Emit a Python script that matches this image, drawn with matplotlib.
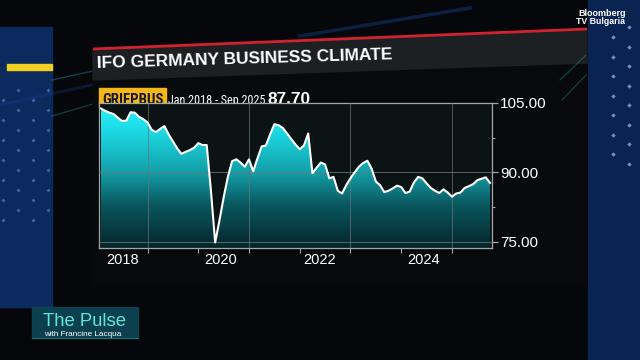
import numpy as np
import matplotlib
matplotlib.use("Agg")
import matplotlib.pyplot as plt
from matplotlib.colors import LinearSegmentedColormap
from matplotlib.patches import Rectangle, Polygon
from matplotlib import font_manager as fm

# ---------------- data ----------------
title = "IFO GERMANY BUSINESS CLIMATE"
ticker = "GRIFPBUS"
period = "Jan 2018 - Sep 2025"
last_value = "87.70"
start_year = 2018
ifo_values = [
    103.8, 103.3, 102.9, 102.6, 101.8, 101.1, 101.2, 103.0, 102.9, 102.0, 101.5, 100.8,   # 2018
    99.2, 98.7, 99.4, 100.0, 98.2, 96.7, 95.2, 94.0, 94.4, 94.8, 95.3, 96.3,              # 2019
    95.9, 95.9, 86.0, 74.8, 79.5, 84.5, 89.0, 92.4, 92.8, 92.1, 91.2, 92.8,               # 2020
    90.2, 93.0, 95.6, 95.8, 98.2, 100.4, 100.2, 99.6, 98.4, 97.2, 96.0, 95.0,             # 2021
    95.8, 98.4, 89.8, 91.0, 92.1, 91.7, 88.7, 89.0, 86.0, 85.4, 87.2, 88.7,               # 2022
    90.0, 91.2, 92.0, 92.5, 90.8, 88.0, 87.2, 85.7, 86.0, 86.5, 87.1, 86.8,               # 2023
    85.5, 85.8, 87.8, 89.0, 88.7, 87.6, 86.6, 86.0, 85.5, 86.3, 85.6, 84.7,               # 2024
    85.4, 85.6, 86.6, 87.0, 87.4, 88.3, 88.6, 88.9, 87.7,                                 # 2025
]
y_ticks = [75, 90, 105]
y_minor = [82.5, 97.5]
y_labels = ["75.00", "90.00", "105.00"]
year_labels = ["2018", "2020", "2022", "2024"]
year_label_pos = [2018.5, 2020.45, 2022.4, 2024.45]
year_ticks = [2019, 2020, 2021, 2022, 2023, 2024, 2025]
grid_years = [2019, 2021, 2023, 2025]

# month-end positions in decimal years
x = start_year + (np.arange(len(ifo_values)) + 1) / 12.0
y = np.array(ifo_values)


def pick_font(cands, default):
    for f in cands:
        try:
            fm.findfont(fm.FontProperties(family=f), fallback_to_default=False)
            return [f, "DejaVu Sans"]
        except Exception:
            continue
    return [default, "DejaVu Sans"]


SANS = pick_font(["Liberation Sans", "Arial"], "DejaVu Sans")
NARROW = pick_font(["Liberation Sans Narrow", "DejaVu Sans Condensed",
                    "Roboto Condensed", "Open Sans Condensed"], SANS[0])

W, H = 640, 360
fig = plt.figure(figsize=(6.4, 3.6), dpi=100, facecolor="#05070a")

# ---------------- background (pixel coords) ----------------
bg = fig.add_axes([0, 0, 1, 1])
bg.set_xlim(0, W)
bg.set_ylim(H, 0)
bg.axis("off")
bg.add_patch(Rectangle((0, 0), W, H, color="#05070a", zorder=0))
# side blue panels
bg.add_patch(Rectangle((0, 27), 52, 280, color="#0b2a5e", zorder=1))
bg.add_patch(Rectangle((588, 0), 52, 360, color="#0a2452", zorder=1))
bg.add_patch(Rectangle((7, 64), 45, 6, color="#f2d021", zorder=2))
# diamond dots
for cx, y0 in [(3, 100), (18, 90), (33, 100), (48, 90)]:
    ys = np.arange(y0, 230, 20)
    bg.scatter([cx] * len(ys), ys, marker="D", s=4, color="#5d8fd6", alpha=0.6, zorder=2, linewidths=0)
for cx, y0 in [(613, 37), (629, 27)]:
    ys = np.arange(y0, 165, 19.5)
    bg.scatter([cx] * len(ys), ys, marker="D", s=5, color="#7fa8e6", alpha=0.85, zorder=2, linewidths=0)
# faint streaks
bg.plot([52, 93], [80, 71], color="#2bb3c0", lw=1.0, alpha=0.35, zorder=1)
bg.plot([52, 93], [116, 104], color="#2bb3c0", lw=1.0, alpha=0.3, zorder=1)
bg.plot([0, 160], [105, 70], color="#1a3f9a", lw=2.0, alpha=0.3, zorder=1)
bg.plot([300, 470], [36, 8], color="#1a4fb0", lw=2.5, alpha=0.35, zorder=1)
# card
bg.add_patch(Polygon([(93, 49), (587, 29), (587, 285), (93, 285)], closed=True,
                     color="#08090b", zorder=2))
bg.add_patch(Polygon([(93, 49), (587, 29), (587, 63), (93, 80)], closed=True,
                     color="#1d2023", zorder=3))
bg.plot([93, 587], [49, 29], color="#d3212f", lw=2.0, zorder=4, solid_capstyle="butt")
bg.plot([560, 586], [80, 55], color="#2bb3c0", lw=0.8, alpha=0.35, zorder=3)
bg.plot([562, 586], [100, 75], color="#2bb3c0", lw=0.8, alpha=0.35, zorder=3)

# title
t_title = bg.text(97, 68, title, color="white", fontsize=12.4, fontweight="bold",
                  family=SANS, ha="left", va="baseline",
                  rotation=1.7, rotation_mode="anchor", zorder=5)

# header row
bg.add_patch(Rectangle((99, 88), 67, 19, color="#f3b71a", zorder=5))
t_tick = bg.text(132.5, 104, ticker, color="#151525", fontsize=10.5, fontweight="bold",
                 family=NARROW, ha="center", va="baseline", zorder=6)
t_per = bg.text(168, 104, period, color="white", fontsize=9.6,
                family=NARROW, ha="left", va="baseline", zorder=6)
t_val = bg.text(268, 104, last_value, color="white", fontsize=12.5, fontweight="bold",
                family=SANS, ha="left", va="baseline", zorder=6)

# Bloomberg logo
bg.text(602, 16, "Bloomberg", color="white", fontsize=6.5, fontweight="bold",
        family=SANS, ha="center", va="baseline", zorder=6)
bg.text(601, 23.5, "TV Bulgaria", color="white", fontsize=6.3, fontweight="bold",
        family=SANS, ha="center", va="baseline", zorder=6)

# The Pulse box
bg.add_patch(Rectangle((32, 307), 106, 31, color="#0e4452", alpha=0.95, zorder=5))
bg.plot([32, 138], [337.5, 337.5], color="#3aa0a8", lw=0.6, alpha=0.6, zorder=6)
bg.text(43, 326.5, "The Pulse", color="#5fe6dc", fontsize=13.3,
        family=SANS, ha="left", va="baseline", zorder=6)
bg.text(44, 336, "with Francine Lacqua", color="white", fontsize=5.9,
        family=SANS, ha="left", va="baseline", zorder=6)

# ---------------- chart axes ----------------
L, R, T, B = 99, 492, 103, 248
ax = fig.add_axes([L / W, 1 - B / H, (R - L) / W, (B - T) / H])
ax.set_zorder(10)
x0 = x[0] - 2 / 50.74
x1 = x[-1] + 2 / 50.74
y0, y1 = 73.6, 105.0
ax.set_xlim(x0, x1)
ax.set_ylim(y0, y1)
ax.set_facecolor("#0c1315")

cmap = LinearSegmentedColormap.from_list(
    "ifo", [(0.0, "#05252a"), (0.3, "#0a5860"), (0.52, "#139fa8"),
            (0.8, "#1cd8e3"), (1.0, "#2af3fc")])
grad = np.linspace(0, 1, 256).reshape(-1, 1)
im = ax.imshow(grad, extent=[x0, x1, y0, y1], aspect="auto", origin="lower",
               cmap=cmap, zorder=2, interpolation="bilinear")
poly = ax.fill_between(x, y, y0, facecolor="none", edgecolor="none")
im.set_clip_path(poly.get_paths()[0], transform=ax.transData)

# grid
for gy in [75, 90]:
    ax.axhline(gy, color="#6c7478", lw=0.7, alpha=0.8, zorder=3)
for gx in grid_years:
    ax.axvline(gx, color="#6c7478", lw=0.7, alpha=0.7, zorder=3)

ax.plot(x, y, color="white", lw=1.5, zorder=5, solid_joinstyle="round")

for s in ax.spines.values():
    s.set_color("#a0a8ac")
    s.set_linewidth(0.9)

ax.yaxis.tick_right()
ax.set_yticks(y_ticks)
ax.set_yticklabels(y_labels)
ax.set_yticks(y_minor, minor=True)
ax.tick_params(axis="y", which="major", length=4, width=0.9, color="#a0a8ac",
               labelcolor="white", labelsize=11, pad=2)
ax.tick_params(axis="y", which="minor", length=2.5, width=0.8, color="#a0a8ac")
ax.tick_params(axis="y", left=False, which="both")

ax.set_xticks(year_label_pos)
ax.set_xticklabels(year_labels)
ax.set_xticks(year_ticks, minor=True)
ax.tick_params(axis="x", which="major", length=0, labelcolor="white",
               labelsize=10.5, pad=3.5)
ax.tick_params(axis="x", which="minor", length=3.5, width=0.8, color="#a0a8ac")
for lab in ax.get_xticklabels() + ax.get_yticklabels():
    lab.set_family(SANS)

# fit header texts to the widths seen in the reference
fig.canvas.draw()
rend = fig.canvas.get_renderer()
for txt, target in [(t_tick, 61), (t_per, 98), (t_val, 43), (t_title, 298)]:
    w = txt.get_window_extent(rend).width
    if txt is t_title:
        w = w / np.cos(np.radians(1.7))
    txt.set_fontsize(txt.get_fontsize() * target / w)

fig.savefig("out.png", dpi=100, facecolor=fig.get_facecolor())
